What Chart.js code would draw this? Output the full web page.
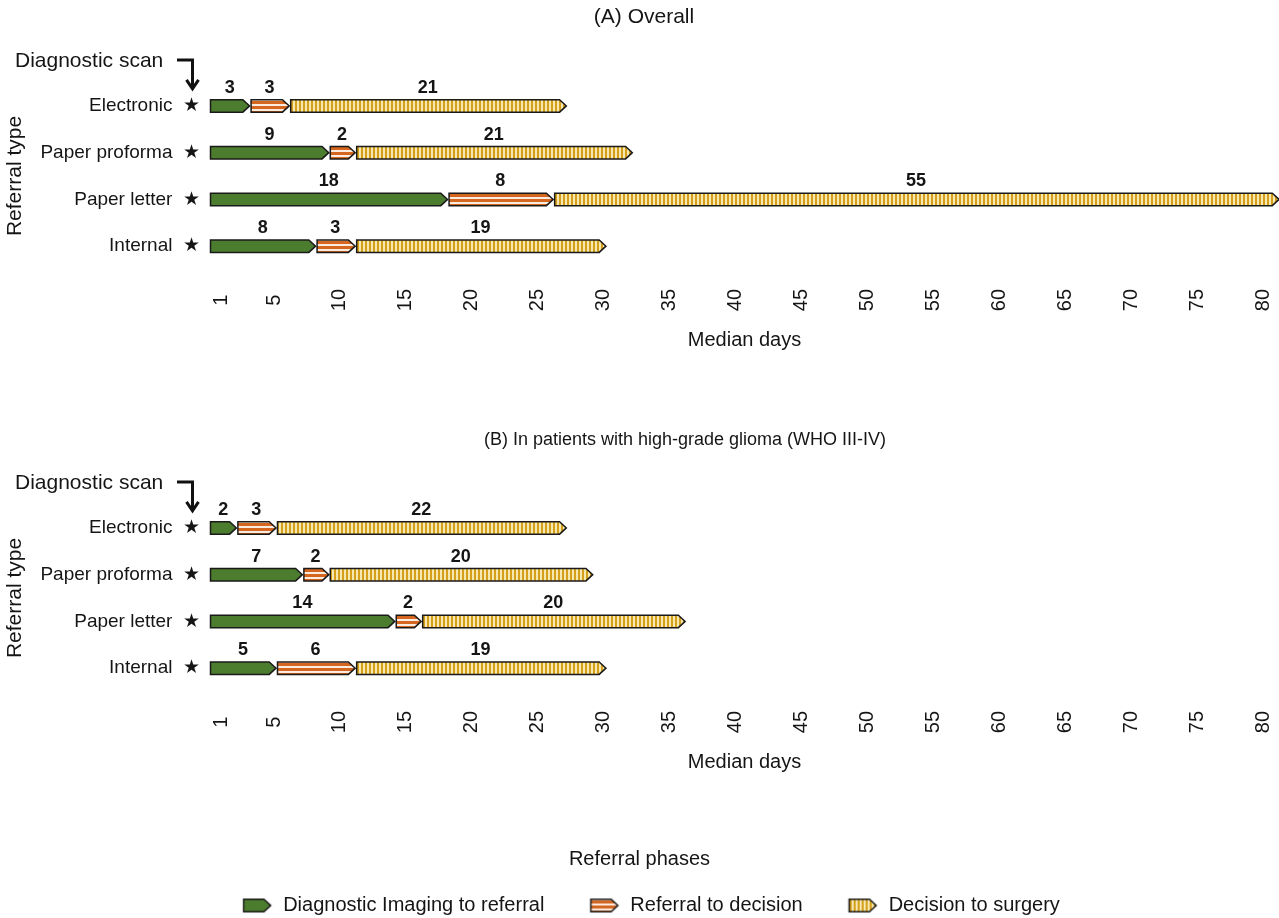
<!DOCTYPE html>
<html><head><meta charset="utf-8">
<script src="https://cdn.jsdelivr.net/npm/chart.js@4.4.1/dist/chart.umd.min.js"></script>
<style>
html,body{margin:0;padding:0;background:#fff;}
#wrap{position:relative;width:1279px;height:918px;background:#fff;}
#pa{position:absolute;left:0;top:0;width:1279px;height:400px;}
#pb{position:absolute;left:0;top:422px;width:1279px;height:496px;}
</style></head><body>
<div id="wrap"><div id="pa"><canvas id="ca"></canvas></div><div id="pb"><canvas id="cb"></canvas></div></div>
<script>
// ---- data ----
const categories = ['Electronic', 'Paper proforma', 'Paper letter', 'Internal'];
const phases = ['Diagnostic Imaging to referral', 'Referral to decision', 'Decision to surgery'];
const overallImaging = [3, 9, 18, 8];
const overallReferral = [3, 2, 8, 3];
const overallSurgery = [21, 21, 55, 19];
const hggImaging = [2, 7, 14, 5];
const hggReferral = [3, 2, 2, 6];
const hggSurgery = [22, 20, 20, 19];
const xTickValues = [1, 5, 10, 15, 20, 25, 30, 35, 40, 45, 50, 55, 60, 65, 70, 75, 80];
const titleA = '(A) Overall';
const titleB = '(B) In patients with high-grade glioma (WHO III-IV)';
const xTitle = 'Median days';
const yTitle = 'Referral type';
const legendTitle = 'Referral phases';
const scanLabel = 'Diagnostic scan';

// ---- styles ----
const FONT = '"Liberation Sans", Arial, Helvetica, sans-serif';
const TXT = '#151515';
const EDGE = '#1a1a1a';
function makeFill(kind){
  if (kind === 0) return '#4c7c2d';
  const c = document.createElement('canvas');
  const g = c.getContext('2d');
  if (kind === 1) {
    c.width = 4; c.height = 5;
    g.fillStyle = '#fcebdf'; g.fillRect(0,0,4,5);
    g.fillStyle = '#d4661f'; g.fillRect(0,0,4,3);
  } else {
    c.width = 4; c.height = 4;
    g.fillStyle = '#f6e8b0'; g.fillRect(0,0,4,4);
    g.fillStyle = '#d4a01a'; g.fillRect(0,0,2,4);
  }
  return g.createPattern(c, 'repeat');
}
function arrowPath(ctx, x0, x1, yc, h){
  const t = Math.min(h/2 + 0.5, Math.max(0, x1 - x0));
  ctx.beginPath();
  ctx.moveTo(x0, yc - h/2);
  ctx.lineTo(x1 - t, yc - h/2);
  ctx.lineTo(x1, yc);
  ctx.lineTo(x1 - t, yc + h/2);
  ctx.lineTo(x0, yc + h/2);
  ctx.closePath();
}
function paintArrow(ctx, kind, x0, x1, yc, h){
  const f = makeFill(kind);
  if (typeof f !== 'string') {
    f.setTransform(new DOMMatrix([1,0,0,1,Math.round(x0),Math.round(yc - h/2) + 1]));
  }
  arrowPath(ctx, x0, x1, yc, h);
  ctx.fillStyle = f;
  ctx.fill();
  ctx.lineWidth = 1.5;
  ctx.lineJoin = 'miter';
  ctx.strokeStyle = EDGE;
  ctx.stroke();
}
function legendIcon(kind){
  const c = document.createElement('canvas');
  c.width = 54; c.height = 16;
  const g = c.getContext('2d');
  paintArrow(g, kind, 24.5, 51.5, 8, 12.5);
  return c;
}

const arrowBars = {
  id: 'arrowBars',
  afterDatasetsDraw(chart){
    const ctx = chart.ctx;
    ctx.save();
    chart.data.datasets.forEach((ds, di) => {
      const meta = chart.getDatasetMeta(di);
      meta.data.forEach((el) => {
        const p = el.getProps(['x','y','base','height'], true);
        const x0 = Math.min(p.x, p.base) + (di > 0 ? 1.5 : 0.5);
        const x1 = Math.max(p.x, p.base);
        paintArrow(ctx, di, x0, x1, p.y, p.height - 1.5);
      });
    });
    // value labels
    ctx.font = 'bold 18px ' + FONT;
    ctx.fillStyle = TXT;
    ctx.textAlign = 'center';
    ctx.textBaseline = 'middle';
    chart.data.datasets.forEach((ds, di) => {
      const meta = chart.getDatasetMeta(di);
      meta.data.forEach((el, i) => {
        const p = el.getProps(['x','y','base'], true);
        ctx.fillText(String(ds.data[i]), (p.x + p.base) / 2, p.y - 18);
      });
    });
    ctx.restore();
  }
};

const panelNotes = {
  id: 'panelNotes',
  afterDraw(chart, args, opts){
    const ctx = chart.ctx;
    const yc = chart.scales.y.getPixelForValue(0);
    ctx.save();
    // panel title
    ctx.font = opts.titleSize + 'px ' + FONT;
    ctx.fillStyle = TXT;
    ctx.textAlign = 'center';
    ctx.textBaseline = 'middle';
    ctx.fillText(opts.title, opts.titleX, opts.titleY);
    // diagnostic scan annotation
    ctx.font = '21px ' + FONT;
    ctx.textAlign = 'left';
    ctx.fillText(scanLabel, 15, yc - 45);
    ctx.strokeStyle = '#111';
    ctx.lineWidth = 3;
    ctx.lineJoin = 'miter';
    ctx.beginPath();
    ctx.moveTo(177, yc - 46);
    ctx.lineTo(192.5, yc - 46);
    ctx.lineTo(192.5, yc - 18);
    ctx.stroke();
    ctx.beginPath();
    ctx.moveTo(186.5, yc - 26);
    ctx.lineTo(192.5, yc - 17);
    ctx.lineTo(198.5, yc - 26);
    ctx.stroke();
    ctx.restore();
  }
};

function buildChart(canvasId, title, titleSize, titleX, titleY, a, b, c, withLegend){
  const icons = [legendIcon(0), legendIcon(1), legendIcon(2)];
  return new Chart(document.getElementById(canvasId), {
    type: 'bar',
    data: {
      labels: categories.map(s => s + '  \u2605'),
      datasets: [
        { label: phases[0], data: a },
        { label: phases[1], data: b },
        { label: phases[2], data: c }
      ].map(d => Object.assign(d, { backgroundColor: 'rgba(0,0,0,0)', borderWidth: 0, barThickness: 14 }))
    },
    options: {
      indexAxis: 'y',
      responsive: true,
      maintainAspectRatio: false,
      animation: false,
      events: [],
      layout: { padding: { top: 82.5, left: 0, right: 0, bottom: 0 }, autoPadding: false },
      scales: {
        x: {
          type: 'linear', stacked: true, min: 0, max: 81,
          grid: { display: false, drawTicks: false },
          border: { display: false },
          afterBuildTicks: (s) => { s.ticks = xTickValues.map(v => ({ value: v })); },
          afterFit: (s) => { s.height = 130.5; s.paddingLeft = 0; s.paddingRight = 0; },
          ticks: {
            autoSkip: false, minRotation: 90, maxRotation: 90,
            padding: 19.5, labelOffset: -2,
            color: TXT, font: { size: 20, family: FONT },
            callback: (v) => (v < 10 ? v + '\u2008' : String(v))
          },
          title: { display: true, text: xTitle, color: TXT, font: { size: 20, family: FONT }, padding: { top: 0, bottom: 48 } }
        },
        y: {
          type: 'category', stacked: true, offset: true,
          grid: { display: false, drawTicks: false },
          border: { display: false },
          afterFit: (s) => { s.width = 210; s.paddingTop = 0; s.paddingBottom = 0; },
          ticks: { padding: 10, color: TXT, font: { size: 19, family: FONT } },
          title: { display: true, text: yTitle, color: TXT, font: { size: 21, family: FONT }, padding: { top: 2.4, bottom: 0 } }
        }
      },
      plugins: {
        tooltip: { enabled: false },
        title: { display: false },
        panelNotes: { title: title, titleSize: titleSize, titleX: titleX, titleY: titleY },
        legend: {
          display: withLegend,
          position: 'bottom',
          maxHeight: 96,
          title: { display: true, text: legendTitle, color: TXT, font: { size: 20, family: FONT }, padding: { top: 27, bottom: 0.5 } },
          labels: {
            usePointStyle: true, pointStyleWidth: 54, padding: 22,
            color: TXT, font: { size: 20, family: FONT },
            generateLabels: () => phases.map((p, i) => ({
              text: p, pointStyle: icons[i], fillStyle: 'rgba(0,0,0,0)', strokeStyle: 'rgba(0,0,0,0)',
              lineWidth: 0, hidden: false, datasetIndex: i, fontColor: TXT
            }))
          }
        }
      }
    },
    plugins: [arrowBars, panelNotes]
  });
}

buildChart('ca', titleA, 21, 644, 17, overallImaging, overallReferral, overallSurgery, false);
buildChart('cb', titleB, 18, 685, 18, hggImaging, hggReferral, hggSurgery, true);
</script>
</body></html>
